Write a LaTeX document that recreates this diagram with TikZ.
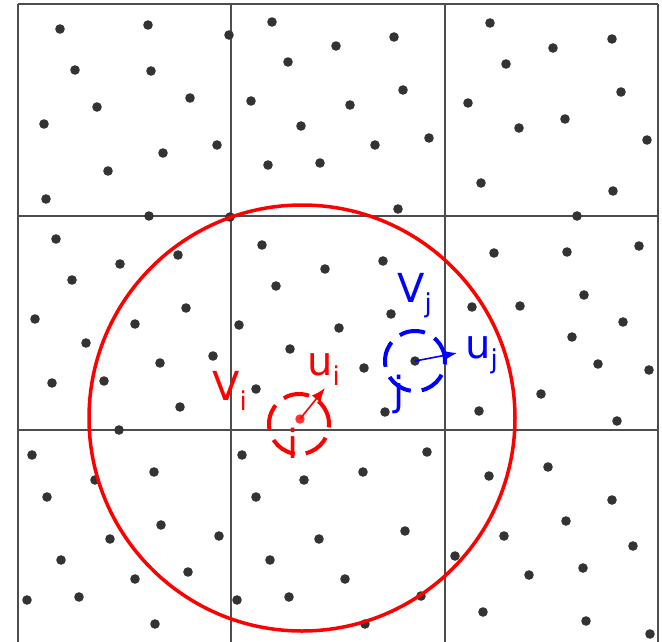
\documentclass[tikz,border=0pt]{standalone}
\usepackage{fontspec}
\setmainfont{DejaVu Sans}
\usetikzlibrary{arrows.meta}
\definecolor{dotgray}{HTML}{333333}
\definecolor{gridgray}{HTML}{4D4D4D}
\newcommand{\lowidx}[1]{\raisebox{-10pt}{\fontsize{26}{30}\selectfont #1}}

\begin{document}
\begin{tikzpicture}[x=1pt, y=-1pt,
    particle/.style={circle, fill=dotgray, inner sep=0pt, minimum size=9.5pt},
    lbl/.style={inner sep=0pt, anchor=base west, font=\fontsize{40}{48}\selectfont},
    velarrow/.style={-{Latex[length=14pt, width=11pt]}, line width=1.6pt},
    cutoff/.style={line width=4pt, dash pattern=on 26pt off 11pt}]
        \useasboundingbox (0,0) rectangle (662,641);

        % Cell grid
        \foreach \x in {18,231,445,658}
            \draw[gridgray, line width=1.3pt] (\x,4) -- (\x,645);
        \foreach \y in {4,216,430}
            \draw[gridgray, line width=1.3pt] (18,\y) -- (658,\y);

        % Particles
        \foreach \x/\y in {60/29, 148/25, 229/35, 75/70, 151/71, 97/107, 190/98, 44/124, 217/145, 163/153, 108/171, 46/199, 149/216, 230/217,
            272/22, 336/46, 394/37, 288/62, 251/101, 403/90, 350/105, 301/126, 429/138, 375/145, 268/165, 320/163, 398/209,
            490/23, 612/39, 553/48, 506/64, 621/92, 468/103, 565/119, 519/128, 647/140, 481/183, 613/191, 577/216,
            56/239, 178/255, 120/264, 262/245, 325/269, 383/261, 72/280, 276/286, 494/253, 567/252, 639/246, 584/295, 520/306,
            472/307, 35/319, 186/308, 135/324, 239/325, 339/328, 391/314, 623/322, 572/337, 86/343, 290/349, 213/356, 160/363,
            364/368, 598/364, 649/370, 52/383, 104/381, 256/389, 180/407, 385/412, 479/411, 541/394, 617/421, 119/430,
            32/455, 242/455, 427/452, 154/472, 95/480, 304/480, 363/472, 489/476, 548/467, 47/497, 256/497, 612/500, 161/525,
            110/539, 219/536, 319/539, 405/531, 504/536, 566/521, 61/560, 270/560, 455/556, 633/546, 135/579, 188/572, 345/579,
            529/575, 583/568, 27/600, 79/597, 237/600, 289/597, 421/596, 483/612, 586/621, 155/624, 365/624, 650/634}
            \fill[dotgray] (\x,\y) circle (4.8pt);

        % Particles i and j
        \node[particle, fill=red!80] (pi) at (300,419) {};
        \node[particle] (pj) at (415,361) {};

        % Cutoff circle
        \draw[red, line width=3.5pt] (302,418) circle (213pt);

        % Dashed circles
        \draw[red, cutoff] (299,424) circle (30pt);
        \draw[blue, cutoff] (pj.center) circle (30pt);

        % Velocities
        \coordinate (ui) at (325,388);
        \coordinate (uj) at (457,353);
        \draw[red, velarrow] (pi.center) -- (ui);
        \draw[blue, velarrow] (pj.center) -- (uj);

        % Labels
        \node[lbl, red] (Vi) at (212,400) {V\lowidx{i}};
        \node[lbl, red] (uil) at (307,375) {u\lowidx{i}};
        \node[lbl, red, anchor=base] (il) at (293,458) {i};
        \node[lbl, blue] (Vj) at (397,302) {V\lowidx{j}};
        \node[lbl, blue] (ujl) at (465,358) {u\lowidx{j}};
        \node[lbl, blue, anchor=base] (jl) at (399,405) {j};
    \end{tikzpicture}
\end{document}
